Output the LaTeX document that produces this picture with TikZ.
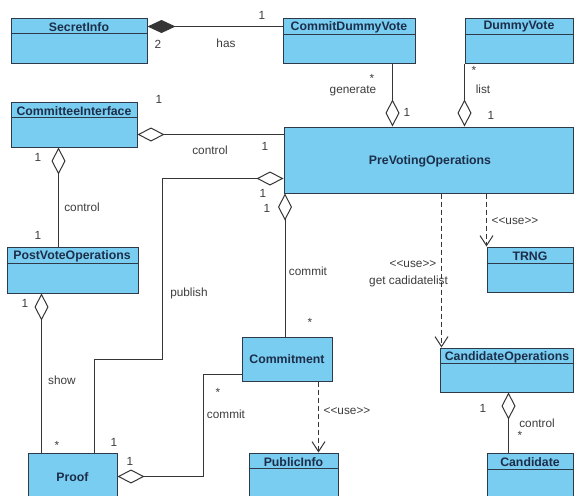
\documentclass[tikz,border=0pt]{standalone}
\usepackage{fontspec}
\setmainfont{Liberation Sans}
\usetikzlibrary{arrows.meta,fit}
\definecolor{boxfill}{HTML}{79CDF0}
\definecolor{boxline}{HTML}{2E3A48}
\definecolor{namecol}{HTML}{1C2E4A}
\definecolor{linecol}{HTML}{363636}
\definecolor{lblcol}{HTML}{3C3C3C}
\tikzset{
 cls/.style={draw=boxline, fill=boxfill, line width=1pt, inner sep=0pt, rectangle},
 hdr/.style={draw=boxline, line width=1pt},
 cname/.style={font=\fontsize{12.3}{14}\selectfont\bfseries, text=namecol, inner sep=0pt},
 lbl/.style={font=\fontsize{11.8}{14}\selectfont, text=lblcol, inner sep=0pt},
 conn/.style={draw=linecol, line width=1pt},
 agg/.style={conn, {Diamond[open, length=27pt, width=14pt, line width=1pt]}-},
 comp/.style={conn, {Diamond[length=28pt, width=13pt]}-},
 dep/.style={conn, dash pattern=on 5pt off 3pt, -{Straight Barb[length=10pt, width=13pt, line width=1pt]}},
}
\begin{document}
\begin{tikzpicture}[x=1pt,y=-1pt]
\useasboundingbox (0,0) rectangle (574,496);
\clip (0,0) rectangle (574,496);
% boxes
\node[cls, fit={(11,18) (147,63)}] (si) {};
\node[cls, fit={(283,18) (415,63)}] (cdv) {};
\node[cls, fit={(465,18) (573.5,63)}] (dv) {};
\node[cls, fit={(11,102) (137,147)}] (ci) {};
\node[cls, fit={(284,127) (573.5,193)}] (pre) {};
\node[cls, fit={(7,247) (138,293)}] (pvo) {};
\node[cls, fit={(28,453) (117,510)}] (proof) {};
\node[cls, fit={(242,337) (332,381)}] (com) {};
\node[cls, fit={(249,453) (338,510)}] (pub) {};
\node[cls, fit={(487,247) (573.5,292)}] (trng) {};
\node[cls, fit={(440,348) (573.5,392)}] (co) {};
\node[cls, fit={(487,453) (573.5,510)}] (cand) {};
% header lines
\draw[hdr] ([yshift=-16pt]si.north west) -- ([yshift=-16pt]si.north east);
\draw[hdr] ([yshift=-17pt]cdv.north west) -- ([yshift=-17pt]cdv.north east);
\draw[hdr] ([yshift=-17pt]dv.north west) -- ([yshift=-17pt]dv.north east);
\draw[hdr] ([yshift=-16pt]ci.north west) -- ([yshift=-16pt]ci.north east);
\draw[hdr] ([yshift=-17pt]pvo.north west) -- ([yshift=-17pt]pvo.north east);
\draw[hdr] ([yshift=-16pt]pub.north west) -- ([yshift=-16pt]pub.north east);
\draw[hdr] ([yshift=-17pt]trng.north west) -- ([yshift=-17pt]trng.north east);
\draw[hdr] ([yshift=-16pt]co.north west) -- ([yshift=-16pt]co.north east);
\draw[hdr] ([yshift=-17pt]cand.north west) -- ([yshift=-17pt]cand.north east);
% class names
\node[cname] (siT) at (79,27) {SecretInfo};
\node[cname] (cdvT) at (349,27) {CommitDummyVote};
\node[cname] (dvT) at (519,27) {DummyVote};
\node[cname] (ciT) at (74,111) {CommitteeInterface};
\node[cname] (preT) at (430,161) {PreVotingOperations};
\node[cname] (pvoT) at (72,256) {PostVoteOperations};
\node[cname] (proofT) at (72.5,477) {Proof};
\node[cname] (comT) at (287,359) {Commitment};
\node[cname] (pubT) at (293.5,462) {PublicInfo};
\node[cname] (trngT) at (530,256) {TRNG};
\node[cname] (coT) at (507,357) {CandidateOperations};
\node[cname] (candT) at (530,462) {Candidate};
% connectors
\draw[comp] ([yshift=-9pt]si.north east) -- ([yshift=-9pt]cdv.north west);
\coordinate (a2) at ([xshift=110pt]cdv.south west);
\draw[agg] (a2 |- pre.north) -- (a2);
\draw[agg] (dv.south west |- pre.north) -- (dv.south west);
\coordinate (a4) at ([yshift=-33pt]ci.north east);
\draw[agg] (a4) -- (a4 -| pre.west);
\coordinate (a5) at ([xshift=48pt]ci.south west);
\draw[agg] (a5) -- (a5 |- pvo.north);
\coordinate (a6) at ([yshift=-52pt]pre.north west);
\coordinate (b6) at (162,359);
\draw[agg] (a6) -| (b6) -| ([xshift=67pt]proof.north west);
\coordinate (a7) at ([xshift=1.5pt]pre.south west);
\draw[agg] (a7) -- (a7 |- com.north);
\coordinate (a8) at ([yshift=-24pt]proof.north east);
\coordinate (b8) at (203,374);
\draw[agg] (a8) -| (b8) -- (b8 -| com.west);
\coordinate (a9) at ([xshift=35pt]pvo.south west);
\draw[agg] (a9) -- (a9 |- proof.north);
\draw[dep] (trng.north west |- pre.south) -- (trng.north west);
\coordinate (a11) at ([xshift=2pt]co.north west);
\draw[dep] (a11 |- pre.south) -- (a11);
\coordinate (a12) at ([xshift=77pt]com.south west);
\draw[dep] (a12) -- (a12 |- pub.north);
\coordinate (a13) at ([xshift=69pt]co.south west);
\draw[agg] (a13) -- (a13 |- cand.north);
% labels
\node[lbl] (l1) at (262,15) {1};
\node[lbl] (l2) at (158,44) {2};
\node[lbl] (l3) at (226,43) {has};
\node[lbl] (l4) at (372,78) {*};
\node[lbl] (l5) at (353,91) {generate};
\node[lbl] (l6) at (407,112) {1};
\node[lbl] (l7) at (474,70) {*};
\node[lbl] (l8) at (483,89) {list};
\node[lbl] (l9) at (491,115) {1};
\node[lbl] (l10) at (159,99) {1};
\node[lbl] (l11) at (210,150) {control};
\node[lbl] (l12) at (265,146) {1};
\node[lbl] (l13) at (38,157) {1};
\node[lbl] (l14) at (82,207) {control};
\node[lbl] (l15) at (38,235) {1};
\node[lbl] (l16) at (263,193) {1};
\node[lbl] (l17) at (189,293) {publish};
\node[lbl] (l18) at (114,442) {1};
\node[lbl] (l19) at (267,208) {1};
\node[lbl] (l20) at (308,271) {commit};
\node[lbl] (l21) at (310,322) {*};
\node[lbl] (l22) at (218,392) {*};
\node[lbl] (l23) at (226,414) {commit};
\node[lbl] (l24) at (130,461) {1};
\node[lbl] (l25) at (25,303) {1};
\node[lbl] (l26) at (62,380) {show};
\node[lbl] (l27) at (57,445) {*};
\node[lbl] (l28) at (515,221) {<\kern0pt<use>\kern0pt>};
\node[lbl] (l29) at (413,264) {<\kern0pt<use>\kern0pt>};
\node[lbl, anchor=west] (l30) at (369,281) {get cadidatelist};
\node[lbl] (l31) at (347,411) {<\kern0pt<use>\kern0pt>};
\node[lbl] (l32) at (483,408) {1};
\node[lbl] (l33) at (537,423) {control};
\node[lbl] (l34) at (520,435) {*};
\end{tikzpicture}
\end{document}
